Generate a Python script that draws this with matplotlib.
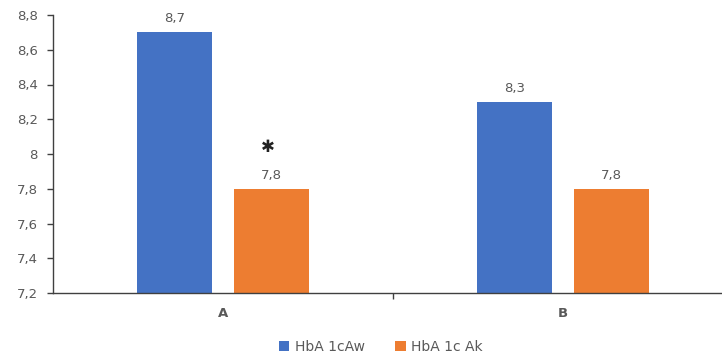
import matplotlib.pyplot as plt
import numpy as np

groups = ['A', 'B']
hba_aw = [8.7, 8.3]
hba_ak = [7.8, 7.8]
series_names = ['HbA 1cAw', 'HbA 1c Ak']
yticks = [7.2, 7.4, 7.6, 7.8, 8.0, 8.2, 8.4, 8.6, 8.8]

blue = '#4472C4'
orange = '#ED7D31'
grey = '#595959'

def fmt(v):
    s = ('%.1f' % v).rstrip('0').rstrip('.')
    return s.replace('.', ',')

fig = plt.figure(figsize=(7.22, 3.58), dpi=100)
ax = fig.add_axes([53 / 722, 1 - 293 / 358, 680 / 722, 278 / 358])

x = np.arange(len(groups))
w = 0.22
off = 0.142
b1 = ax.bar(x - off, hba_aw, w, color=blue, label=series_names[0])
b2 = ax.bar(x + off, hba_ak, w, color=orange, label=series_names[1])

for bars, vals in [(b1, hba_aw), (b2, hba_ak)]:
    for r, v in zip(bars, vals):
        ax.annotate(fmt(v), (r.get_x() + r.get_width() / 2, v), xytext=(0, 5),
                    textcoords='offset points', ha='center', va='bottom',
                    fontsize=9.5, color=grey)

# significance marker above group A, orange bar
ax.text(x[0] + off - 0.01, 8.04, '✱', ha='center', va='center', fontsize=12, color='#222222')

ax.set_ylim(7.2, 8.8)
ax.set_xlim(-0.5, 1.5)
ax.set_yticks(yticks)
ax.set_yticklabels([fmt(t) for t in yticks], fontsize=9.5, color=grey)
ax.set_xticks([0.5])
ax.set_xticklabels([''])
ax.tick_params(axis='y', length=4, width=1, color='#404040', pad=7)
ax.tick_params(axis='x', length=4, width=1, color='#404040')
for xi, g in zip(x, groups):
    ax.text(xi, -0.05, g, transform=ax.get_xaxis_transform(), ha='center', va='top',
            fontsize=9.5, fontweight='bold', color=grey)

for s in ['top', 'right']:
    ax.spines[s].set_visible(False)
for s in ['left', 'bottom']:
    ax.spines[s].set_color('#404040')
    ax.spines[s].set_linewidth(1)

fig.legend(handles=[b1, b2], loc='center', bbox_to_anchor=(381 / 722, 1 - 347 / 358),
           ncol=2, frameon=False, fontsize=10, labelcolor=grey,
           handlelength=0.75, handleheight=0.75, handletextpad=0.4, columnspacing=2.2)

fig.savefig('out.png', dpi=100)
